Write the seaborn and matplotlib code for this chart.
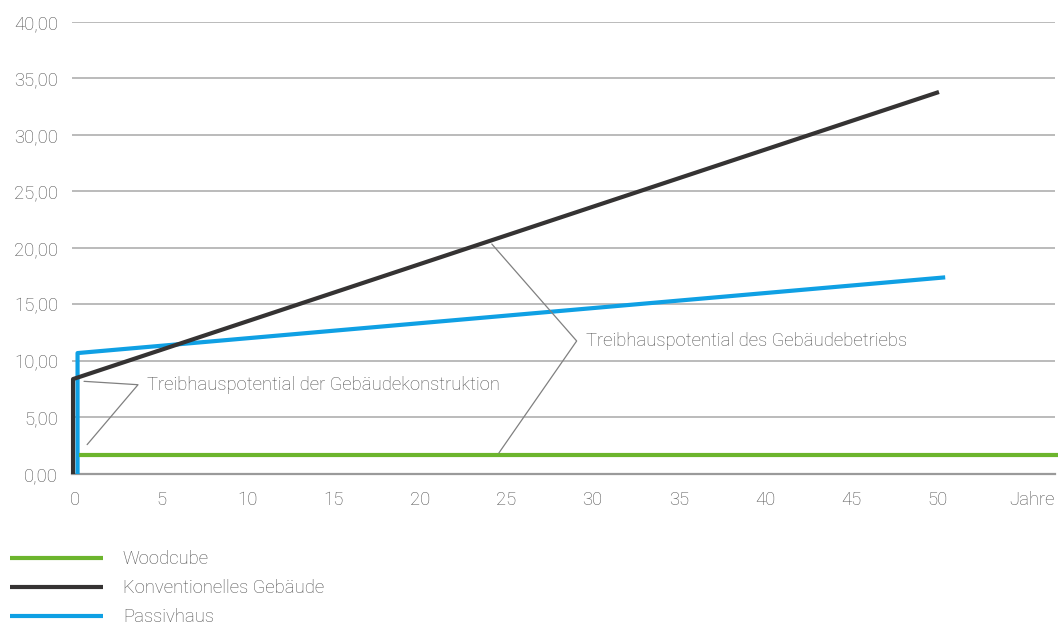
import matplotlib
matplotlib.use("Agg")
import matplotlib.pyplot as plt
from matplotlib.ticker import FuncFormatter, MultipleLocator
from matplotlib.transforms import ScaledTranslation
import seaborn as sns
import pandas as pd

# Greenhouse potential over building lifetime (years)
woodcube_years = [0, 56.8]
woodcube_values = [1.7, 1.7]

konv_years = [0, 0, 50.2]
konv_values = [0.0, 8.4, 33.8]

passiv_years = [0, 0, 50.3]
passiv_values = [0.0, 10.7, 17.4]

x_ticks = [0, 5, 10, 15, 20, 25, 30, 35, 40, 45, 50]
x_unit = "Jahre"
label_construction = "Treibhauspotential der Gebäudekonstruktion"
label_operation = "Treibhauspotential des Gebäudebetriebs"

series_names = ["Woodcube", "Konventionelles Gebäude", "Passivhaus"]
colors = {"Woodcube": "#6cb52d", "Konventionelles Gebäude": "#353333", "Passivhaus": "#0fa0e4"}

sns.set_theme(style="white")
plt.rcParams["font.family"] = ["Roboto", "DejaVu Sans"]
plt.rcParams["font.weight"] = "light"
text_color = "#4f4f4f"
grid_color = "#a8a8a8"
fs = 13.3

fig = plt.figure(figsize=(10.58, 6.26), dpi=100)
ax = fig.add_axes([0.068, 0.2428, 0.929, 0.7222])

df_w = pd.DataFrame({"x": woodcube_years, "y": woodcube_values})
df_k = pd.DataFrame({"x": konv_years, "y": konv_values})
df_p = pd.DataFrame({"x": passiv_years, "y": passiv_values})

lw = 3.0
sns.lineplot(data=df_p, x="x", y="y", ax=ax, sort=False, estimator=None,
             color=colors["Passivhaus"], lw=lw, zorder=3)
line_p = ax.lines[-1]
sns.lineplot(data=df_k, x="x", y="y", ax=ax, sort=False, estimator=None,
             color=colors["Konventionelles Gebäude"], lw=lw, zorder=4)
line_k = ax.lines[-1]
sns.lineplot(data=df_w, x="x", y="y", ax=ax, sort=False, estimator=None,
             color=colors["Woodcube"], lw=lw, zorder=5)
line_w = ax.lines[-1]

# nudge the two vertical construction segments apart so both stay visible
line_k.set_transform(ax.transData + ScaledTranslation(-0.02, 0, fig.dpi_scale_trans))
line_p.set_transform(ax.transData + ScaledTranslation(0.025, 0, fig.dpi_scale_trans))
line_w.set_transform(ax.transData + ScaledTranslation(0.04, 0, fig.dpi_scale_trans))
for ln in (line_k, line_p, line_w):
    ln.set_solid_capstyle("butt")
    ln.set_clip_on(False)

ax.set_xlim(-0.18, 56.8)
ax.set_ylim(0, 40)
ax.yaxis.set_major_locator(MultipleLocator(5))
ax.yaxis.set_major_formatter(FuncFormatter(lambda v, p: f"{v:.2f}".replace(".", ",")))
ax.set_xticks(x_ticks)
ax.set_xticklabels([str(t) for t in x_ticks])

ax.grid(axis="y", color=grid_color, lw=1.1)
ax.set_axisbelow(True)
for s in ("top", "right", "left"):
    ax.spines[s].set_visible(False)
ax.spines["bottom"].set_color("#9a9a9a")
ax.spines["bottom"].set_linewidth(1.6)
ax.tick_params(axis="both", length=0, labelsize=fs, colors=text_color)
ax.tick_params(axis="y", pad=10)
ax.tick_params(axis="x", pad=12)
ax.set_xlabel("")
ax.set_ylabel("")

ax.text(1.0, 0.0, x_unit, transform=ax.transAxes, ha="right", va="top",
        fontsize=fs, color=text_color, fontweight="light")
# push "Jahre" down to the tick-label row
ax.texts[-1].set_transform(ax.transAxes + ScaledTranslation(0, -0.165, fig.dpi_scale_trans))

# leader lines for the annotations
ann_kw = dict(color="#808080", lw=0.9, zorder=6, clip_on=False)
ax.plot([0.52, 3.65, 0.7], [8.2, 7.9, 2.6], **ann_kw)
ax.text(4.2, 7.9, label_construction, ha="left", va="center", fontsize=fs,
        color=text_color, fontweight="light")
ax.plot([24.16, 29.08, 24.57], [20.35, 11.77, 1.86], **ann_kw)
ax.text(29.6, 11.8, label_operation, ha="left", va="center", fontsize=fs,
        color=text_color, fontweight="light")

handles = [line_w, line_k, line_p]
leg = fig.legend(handles, series_names, loc="upper left",
                 bbox_to_anchor=(0.009, 0.121), frameon=False,
                 fontsize=fs, handlelength=5.05, handletextpad=1.08,
                 labelspacing=0.6, borderaxespad=0, borderpad=0)
for t in leg.get_texts():
    t.set_color(text_color)

fig.savefig("out.png", dpi=100)
